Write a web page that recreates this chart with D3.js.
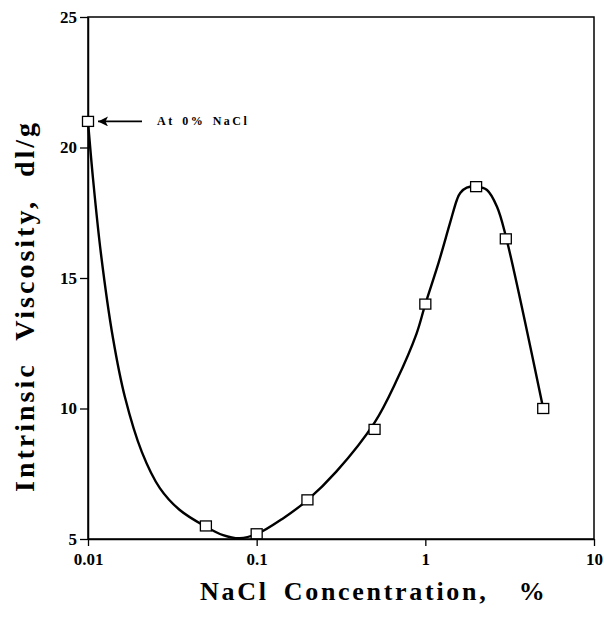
<!DOCTYPE html>
<html>
<head>
<meta charset="utf-8">
<script src="https://cdn.jsdelivr.net/npm/d3@7"></script>
<style>
html,body{margin:0;padding:0;background:#fff;}
svg{display:block;}
text{font-family:"Liberation Serif","Times New Roman",serif;font-weight:bold;fill:#000;}
</style>
</head>
<body>
<svg id="chart" width="604" height="617"></svg>
<script>
// measured data points
const concentrations = [0.01, 0.05, 0.1, 0.2, 0.5, 1, 2, 3, 5];
const viscosities    = [21, 5.5, 5.2, 6.5, 9.2, 14, 18.5, 16.5, 10];
// smooth fitted curve
const fitX = [0.01, 0.0107, 0.01194, 0.01406, 0.01655, 0.02087, 0.02667, 0.035, 0.05, 0.0632, 0.0793, 0.1, 0.1432, 0.2, 0.2965, 0.5, 0.673, 0.885, 1.0, 1.2, 1.4, 1.54, 1.61, 1.76, 2.02, 2.32, 2.66, 3.0, 5.0];
const fitY = [21, 18.83, 15.92, 12.7, 10.44, 8.33, 6.95, 6.11, 5.47, 5.15, 5.03, 5.19, 5.79, 6.49, 7.58, 9.46, 11.05, 12.85, 14.0, 15.6, 17.1, 18.0, 18.26, 18.46, 18.5, 18.37, 17.73, 16.6, 10.0];
const xTicks = [0.01, 0.1, 1, 10];
const xTickLabels = ["0.01", "0.1", "1", "10"];
const yTicks = [5, 10, 15, 20, 25];

(function () {
const svg = d3.select("#chart");
const mL = 88, mR = 594, mT = 17, mB = 539;

const x = d3.scaleLog().domain([0.01, 10]).range([mL, mR]);
const y = d3.scaleLinear().domain([5, 25]).range([mB, mT]);

// frame
svg.append("rect").attr("x", mL).attr("y", mT)
  .attr("width", mR - mL).attr("height", mB - mT)
  .attr("fill", "none").attr("stroke", "#000").attr("stroke-width", 1.5);

// axes
const xAxis = d3.axisBottom(x).tickValues(xTicks)
  .tickFormat((d, i) => xTickLabels[i]).tickSize(7).tickSizeOuter(0).tickPadding(7);
const gx = svg.append("g").attr("transform", `translate(0,${mB})`).call(xAxis);
gx.select(".domain").attr("stroke-width", 1.5);
gx.selectAll(".tick line").attr("stroke-width", 1.3);
gx.selectAll("text").style("font-size", "17px").attr("fill", "#000");

const yAxis = d3.axisLeft(y).tickValues(yTicks).tickSize(8).tickSizeOuter(0).tickPadding(3);
const gy = svg.append("g").attr("transform", `translate(${mL},0)`).call(yAxis);
gy.select(".domain").attr("stroke-width", 1.5);
gy.selectAll(".tick line").attr("stroke-width", 1.3);
gy.selectAll("text").style("font-size", "17px").attr("fill", "#000");

// fitted curve
const fit = fitX.map((d, i) => [d, fitY[i]]);
svg.append("path").datum(fit)
  .attr("d", d3.line().x(d => x(d[0])).y(d => y(d[1])).curve(d3.curveCatmullRom.alpha(0.5)))
  .attr("fill", "none").attr("stroke", "#000").attr("stroke-width", 2.4);

// markers
const pts = concentrations.map((d, i) => [d, viscosities[i]]);
svg.append("g").selectAll("rect").data(pts).join("rect")
  .attr("x", d => x(d[0]) - 5.5).attr("y", d => y(d[1]) - 5)
  .attr("width", 11).attr("height", 10)
  .attr("fill", "#fff").attr("stroke", "#000").attr("stroke-width", 1.3);

// annotation
const ay = y(21);
svg.append("defs").append("marker").attr("id", "ah")
  .attr("viewBox", "0 0 10 10").attr("refX", 10).attr("refY", 5)
  .attr("markerWidth", 15).attr("markerHeight", 10).attr("markerUnits", "userSpaceOnUse")
  .attr("orient", "auto")
  .append("path").attr("d", "M0,0 L10,5 L0,10 L2.5,5 Z").attr("fill", "#000");
svg.append("line").attr("x1", 142).attr("y1", ay).attr("x2", 98).attr("y2", ay)
  .attr("stroke", "#000").attr("stroke-width", 1.8).attr("marker-end", "url(#ah)");
svg.append("text").attr("x", 157).attr("y", ay + 4)
  .style("font-size", "12px").style("letter-spacing", "2.5px").style("word-spacing", "2px")
  .text("At 0% NaCl");

// axis titles
svg.append("text").attr("x", 200).attr("y", 600)
  .style("font-size", "26px").style("letter-spacing", "2.7px").style("word-spacing", "6px")
  .style("white-space", "pre")
  .text("NaCl Concentration,  %");
svg.append("text").attr("transform", "translate(34,306) rotate(-90)")
  .attr("text-anchor", "middle")
  .style("font-size", "28px").style("letter-spacing", "3px").style("word-spacing", "12px")
  .text("Intrinsic Viscosity, dl/g");
})();
</script>
</body>
</html>
